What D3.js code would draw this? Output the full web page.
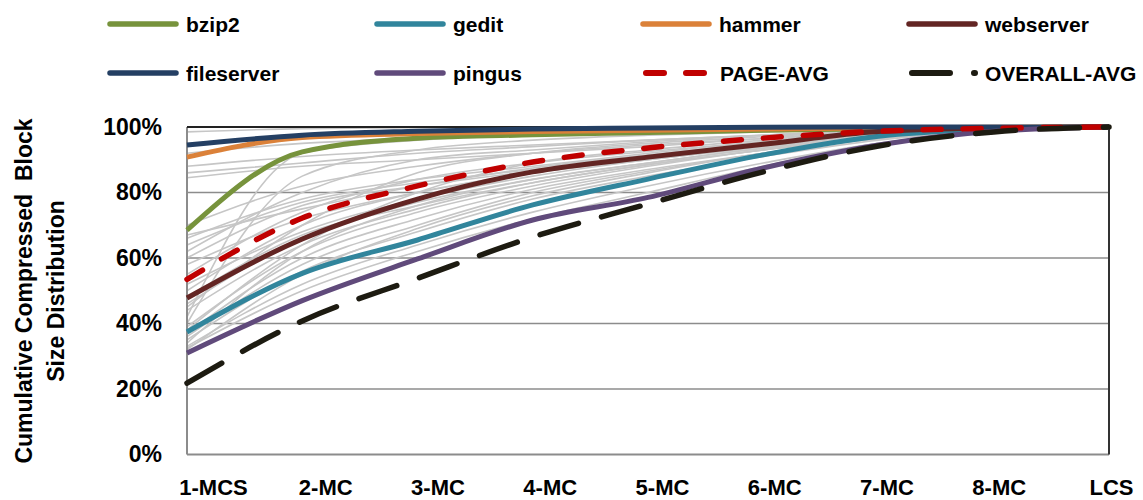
<!DOCTYPE html>
<html><head><meta charset="utf-8">
<script src="https://cdn.jsdelivr.net/npm/d3@7"></script>
<style>body{margin:0;background:#fff}svg{display:block}text{font-family:"Liberation Sans",Arial,sans-serif;font-weight:bold;fill:#000}</style>
</head><body><svg id="c" width="1143" height="500"></svg>
<script>
const categories = ["1-MCS","2-MC","3-MC","4-MC","5-MC","6-MC","7-MC","8-MC","LCS"];
const yTicks = [0,20,40,60,80,100];
const bzip2      = [68.5, 92.4, 96.6, 97.6, 98.3, 99.0, 99.5, 99.8, 100];
const gedit      = [37.4, 55.3, 65.5, 76.2, 84.1, 91.5, 97.2, 99.3, 100];
const hammer     = [90.8, 96.8, 98.0, 98.6, 99.0, 99.4, 99.7, 99.9, 100];
const webserver  = [47.8, 65.8, 78.0, 86.3, 90.8, 94.7, 98.6, 99.7, 100];
const fileserver = [94.5, 97.5, 98.7, 99.4, 99.7, 99.9, 100, 100, 100];
const pingus     = [31.0, 47.0, 59.7, 71.6, 78.5, 87.5, 94.5, 98.7, 100];
const pageAvg    = [53.5, 72.2, 82.0, 89.3, 93.6, 96.6, 98.7, 99.6, 100];
const overallAvg = [21.8, 40.8, 53.8, 66.4, 76.5, 86.3, 94.2, 98.5, 100];
const others = [
 [98.5, 99.5, 99.8, 100, 100, 100, 100, 100, 100],
 [92, 95, 96.5, 97.5, 98.3, 99, 99.5, 99.8, 100],
 [88, 91, 93, 94.5, 96, 97.5, 98.8, 99.5, 100],
 [86, 89, 92, 94, 96, 97.5, 98.8, 99.6, 100],
 [84.5, 88, 90, 92, 94, 96.5, 98.5, 99.5, 100],
 [70, 82, 88, 92, 94.5, 96.5, 98.5, 99.5, 100],
 [67, 75, 82, 87.5, 91.5, 95, 97.8, 99.4, 100],
 [66, 78, 84, 88, 92, 95.5, 98, 99.5, 100],
 [64, 77, 83, 87, 91, 95, 97.8, 99.4, 100],
 [62, 80, 90, 93, 95.5, 97.5, 99, 99.7, 100],
 [60, 76, 82, 86.5, 90.5, 94.5, 97.5, 99.3, 100],
 [58, 72, 80, 86, 90, 94, 97.5, 99.2, 100],
 [55, 74, 84, 89, 92.5, 95.5, 98, 99.5, 100],
 [52, 68, 78, 85, 90, 94, 97.5, 99.2, 100],
 [50, 70, 80, 86, 90.5, 94.5, 97.5, 99.3, 100],
 [48, 67, 76, 83, 88.5, 93, 97, 99, 100],
 [46, 66, 77, 84, 89, 93.5, 97, 99, 100],
 [45, 70, 86, 92, 95, 97, 98.8, 99.6, 100],
 [44, 64, 75, 83, 88.5, 93, 97, 99, 100],
 [42, 92, 96, 97.5, 98.5, 99.2, 99.6, 99.9, 100],
 [40, 85, 93, 96, 97.5, 98.5, 99.3, 99.7, 100],
 [39, 62, 74, 82, 88, 93, 96.5, 99, 100],
 [38, 64, 80, 89, 93, 96, 98.5, 99.5, 100],
 [37, 60, 72, 81, 87, 92, 96.5, 98.8, 100],
 [36, 58, 70, 80, 86.5, 92, 96.5, 98.8, 100],
 [35, 56, 68, 78, 85, 91, 96, 98.7, 100],
 [34, 62, 76, 84, 89, 93.5, 97, 99, 100],
 [33, 52, 64, 74, 82, 89, 95, 98.5, 100],
 [32.5, 50, 62, 72, 80, 88, 95, 98.5, 100],
 [32, 55, 69, 79, 86, 92, 96.5, 99, 100]
];
const seriesNames = ["bzip2","gedit","hammer","webserver","fileserver","pingus","PAGE-AVG","OVERALL-AVG"];
const seriesColors = ["#77933C","#31859C","#DB8139","#632523","#243F63","#604A7B","#C00000","#1D1B11"];
const seriesValues = [bzip2, gedit, hammer, webserver, fileserver, pingus, pageAvg, overallAvg];
const dashes = {"PAGE-AVG":"18,22","OVERALL-AVG":"40,24"};
const legendDashes = {"PAGE-AVG":"18,22","OVERALL-AVG":"38,24"};

const series = seriesNames.map((n,i)=>({name:n, v:seriesValues[i], c:seriesColors[i], dash:dashes[n]}));

const svg = d3.select("#c");
const L=187, R=1109, T=127, B=454.5;
const x = d3.scalePoint().domain(categories).range([L,R]);
const xLab = d3.scalePoint().domain(categories).range([213,1111]);
const y = d3.scaleLinear().domain([0,100]).range([B,T]);
const FONT = "'Liberation Sans',Arial,sans-serif";

// gridlines
svg.append("g").selectAll("line").data(yTicks.filter(d=>d>0&&d<100)).join("line")
 .attr("x1",L).attr("x2",R).attr("y1",d=>y(d)).attr("y2",d=>y(d))
 .attr("stroke","#8c8c8c").attr("stroke-width",1.5);

// y axis labels
const ya = svg.append("g").attr("transform",`translate(${L},0)`)
 .call(d3.axisLeft(y).tickValues(yTicks).tickFormat(d=>d+"%").tickSize(0).tickPadding(25));
ya.select(".domain").remove();
ya.selectAll("text").attr("font-size",23).style("font-family",FONT).style("font-weight","bold").attr("fill","#000");

// x axis labels
const xa = svg.append("g").attr("transform",`translate(0,${B})`)
 .call(d3.axisBottom(xLab).tickSize(0).tickPadding(25));
xa.select(".domain").remove();
xa.selectAll("text").attr("font-size",22).style("font-family",FONT).style("font-weight","bold").attr("fill","#000");

// gray lines
const line = d3.line().x((d,i)=>x(categories[i])).y(d=>y(d)).curve(d3.curveMonotoneX);
svg.append("g").selectAll("path").data(others).join("path")
 .attr("d",line).attr("fill","none").attr("stroke","#c6c6c6").attr("stroke-width",1.6);

// frame
svg.append("line").attr("x1",L).attr("x2",L).attr("y1",T).attr("y2",B).attr("stroke","#8c8c8c").attr("stroke-width",2);
svg.append("line").attr("x1",L).attr("x2",R).attr("y1",B).attr("y2",B).attr("stroke","#8c8c8c").attr("stroke-width",2);
svg.append("line").attr("x1",R).attr("x2",R).attr("y1",T).attr("y2",B).attr("stroke","#333").attr("stroke-width",2);
svg.append("line").attr("x1",L).attr("x2",R).attr("y1",T).attr("y2",T).attr("stroke","#222").attr("stroke-width",2);

// main series
svg.append("g").selectAll("path").data(series).join("path")
 .attr("d",d=>line(d.v)).attr("fill","none").attr("stroke",d=>d.c)
 .attr("stroke-width",d=>d.dash?5.5:5).attr("stroke-dasharray",d=>d.dash||null)
 .attr("stroke-linecap",d=>d.dash?"round":"butt");

// legend
const legX = [110,377,643,909], legY=[24,73];
const lg = svg.append("g").selectAll("g").data(series).join("g")
 .attr("transform",(d,i)=>`translate(${legX[i%4]},${legY[Math.floor(i/4)]})`);
lg.append("line").attr("x1",d=>d.dash?3:0).attr("x2",66).attr("y1",0).attr("y2",0)
 .attr("stroke",d=>d.c).attr("stroke-width",d=>d.dash?6:5.5)
 .attr("stroke-dasharray",d=>legendDashes[d.name]||null)
 .attr("stroke-linecap","round");
lg.append("text").attr("x",d=>d.name==="PAGE-AVG"?77:76).attr("y",0).attr("dy","0.36em").attr("font-size",21).text(d=>d.name);

// y title
const yt = svg.append("g").attr("transform","translate(0,291) rotate(-90)");
yt.append("text").attr("x",0).attr("y",32).attr("text-anchor","middle").attr("font-size",23).style("white-space","pre").text("Cumulative Compressed  Block");
yt.append("text").attr("x",0).attr("y",64).attr("text-anchor","middle").attr("font-size",23).text("Size Distribution");
</script></body></html>
